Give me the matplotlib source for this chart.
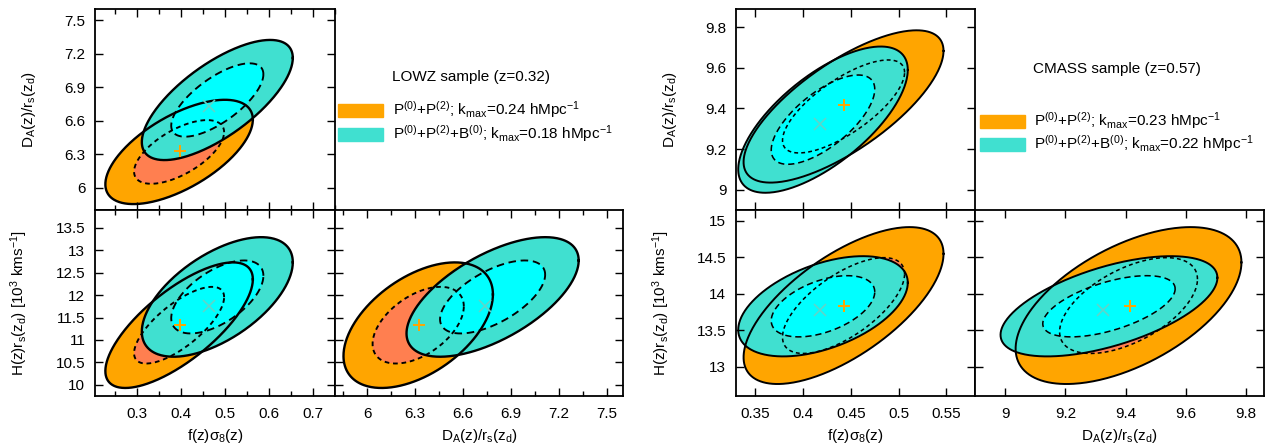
import numpy as np
import matplotlib
matplotlib.use('Agg')
import matplotlib.pyplot as plt
from matplotlib.patches import Rectangle
from matplotlib.ticker import MultipleLocator, FuncFormatter

plt.rcParams['font.family'] = ['Liberation Sans', 'DejaVu Sans']
plt.rcParams['mathtext.fontset'] = 'custom'
plt.rcParams['mathtext.rm'] = 'Liberation Sans'
plt.rcParams['mathtext.it'] = 'Liberation Sans:italic'
plt.rcParams['mathtext.bf'] = 'Liberation Sans:bold'
plt.rcParams['font.size'] = 11

# parameter order: f*sigma8, DA/rs, H*rs ; rho = (fs8-DA, fs8-H, DA-H)
lowz_p02_mean = [0.395, 6.32, 11.33]
lowz_p02_sig = [0.0676, 0.188, 0.564]
lowz_p02_rho = [0.62, 0.73, 0.49]
lowz_p02_best = [0.396, 6.325, 11.33]

lowz_bis_mean = [0.482, 6.785, 11.96]
lowz_bis_sig = [0.0692, 0.2166, 0.537]
lowz_bis_rho = [0.70, 0.58, 0.61]
lowz_bis_best = [0.462, 6.735, 11.75]

cmass_p02_mean = [0.4425, 9.41, 13.84]
cmass_p02_sig = [0.0421, 0.151, 0.433]
cmass_p02_rho = [0.73, 0.66, 0.55]
cmass_p02_best = [0.443, 9.415, 13.84]

cmass_bis_mean = [0.421, 9.345, 13.83]
cmass_bis_sig = [0.0357, 0.145, 0.2766]
cmass_bis_rho = [0.68, 0.47, 0.57]
cmass_bis_best = [0.418, 9.325, 13.785]

lowz_labels = [r'P$^{\mathrm{(0)}}$+P$^{\mathrm{(2)}}$; k$_{\mathrm{max}}$=0.24 hMpc$^{\mathrm{-1}}$',
               r'P$^{\mathrm{(0)}}$+P$^{\mathrm{(2)}}$+B$^{\mathrm{(0)}}$; k$_{\mathrm{max}}$=0.18 hMpc$^{\mathrm{-1}}$']
cmass_labels = [r'P$^{\mathrm{(0)}}$+P$^{\mathrm{(2)}}$; k$_{\mathrm{max}}$=0.23 hMpc$^{\mathrm{-1}}$',
                r'P$^{\mathrm{(0)}}$+P$^{\mathrm{(2)}}$+B$^{\mathrm{(0)}}$; k$_{\mathrm{max}}$=0.22 hMpc$^{\mathrm{-1}}$']

ORANGE, CORAL = '#FFA500', '#FF7F50'
TURQ, CYAN = '#40E0D0', '#00FFFF'
CHI2_1S, CHI2_2S = 2.30, 6.17

lab_fs8 = r'f(z)σ$_{\mathrm{8}}$(z)'
lab_da = r'D$_{\mathrm{A}}$(z)/r$_{\mathrm{s}}$(z$_{\mathrm{d}}$)'
lab_h = r'H(z)r$_{\mathrm{s}}$(z$_{\mathrm{d}}$) [10$^{\mathrm{3}}$ kms$^{\mathrm{-1}}$]'


def ellipse(mean, sig, rho, i, j, k):
    r = {(0, 1): rho[0], (0, 2): rho[1], (1, 2): rho[2]}[(i, j)]
    c = np.array([[sig[i]**2, r*sig[i]*sig[j]], [r*sig[i]*sig[j], sig[j]**2]])
    L = np.linalg.cholesky(c)
    t = np.linspace(0, 2*np.pi, 400)
    p = L @ np.vstack([np.cos(t), np.sin(t)]) * np.sqrt(k)
    return mean[i] + p[0], mean[j] + p[1]


def draw(ax, i, j, a, b, lw):
    # a: P0+P2 set, b: +B0 set  -> (mean, sig, rho, best)
    for (m, s, r, _), co, ci in [(a, ORANGE, CORAL), (b, TURQ, CYAN)]:
        ax.fill(*ellipse(m, s, r, i, j, CHI2_2S), color=co, lw=0)
        ax.fill(*ellipse(m, s, r, i, j, CHI2_1S), color=ci, lw=0)
    for (m, s, r, _), d in [(a, (2.5, 2)), (b, (4, 2.5))]:
        ax.plot(*ellipse(m, s, r, i, j, CHI2_2S), color='k', lw=lw)
        ax.plot(*ellipse(m, s, r, i, j, CHI2_1S), color='k', lw=lw*0.8, dashes=d)
    ax.plot(a[3][i], a[3][j], '+', color=ORANGE, ms=8, mew=1.4)
    ax.plot(b[3][i], b[3][j], 'x', color='#5ED6CA', ms=8, mew=1.2)


def style(ax, xlim, ylim, xmaj, ymaj, xmin=None, ymin=None):
    ax.set_xlim(*xlim)
    ax.set_ylim(*ylim)
    ax.xaxis.set_major_locator(MultipleLocator(xmaj))
    ax.yaxis.set_major_locator(MultipleLocator(ymaj))
    if xmin:
        ax.xaxis.set_minor_locator(MultipleLocator(xmin))
    if ymin:
        ax.yaxis.set_minor_locator(MultipleLocator(ymin))
    fmt = FuncFormatter(lambda v, p: f'{round(v, 6):g}')
    ax.xaxis.set_major_formatter(fmt)
    ax.yaxis.set_major_formatter(fmt)
    ax.tick_params(which='both', direction='in', top=True, right=True, width=1)
    ax.tick_params(which='major', length=6)
    ax.tick_params(which='minor', length=3.5)
    ax.tick_params(axis='x', pad=8)
    ax.tick_params(axis='y', pad=7)
    for sp in ax.spines.values():
        sp.set_linewidth(1.3)


W, H = 1273, 445
fig = plt.figure(figsize=(W/100, H/100), dpi=100)


def axes_px(x0, x1, y0, y1):
    return fig.add_axes([x0/W, 1 - y1/H, (x1 - x0)/W, (y1 - y0)/H])


def ylab(ax, txt, xc):
    ax.set_ylabel(txt, va='center')
    ax.yaxis.set_label_coords(xc, 0.5)


def xlab(ax, txt):
    ax.set_xlabel(txt, va='center')
    ax.xaxis.set_label_coords(0.5, -0.215)


# ---- LOWZ ----
lz_a = (lowz_p02_mean, lowz_p02_sig, lowz_p02_rho, lowz_p02_best)
lz_b = (lowz_bis_mean, lowz_bis_sig, lowz_bis_rho, lowz_bis_best)
lw_l = 1.7

ax1 = axes_px(95, 335, 9, 210)
draw(ax1, 0, 1, lz_a, lz_b, lw_l)
style(ax1, (0.2035, 0.75), (5.8, 7.6), 0.1, 0.3, 0.05)
ax1.tick_params(labelbottom=False)
ylab(ax1, lab_da, -0.275)

ax2 = axes_px(95, 335, 210, 396)
draw(ax2, 0, 2, lz_a, lz_b, lw_l)
style(ax2, (0.2035, 0.75), (9.75, 13.9), 0.1, 0.5, 0.05)
ylab(ax2, lab_h, -0.315)
xlab(ax2, lab_fs8)

ax3 = axes_px(335, 623, 210, 396)
draw(ax3, 1, 2, lz_a, lz_b, lw_l)
style(ax3, (5.8, 7.6), (9.75, 13.9), 0.3, 0.5, 0.15)
ax3.tick_params(labelleft=False)
xlab(ax3, lab_da)

fig.text(392/W, 1 - 77.5/H, 'LOWZ sample (z=0.32)', va='center', ha='left')
fig.add_artist(Rectangle((338/W, 1 - 116.7/H), 45/W, 12.7/H, color=ORANGE, transform=fig.transFigure))
fig.add_artist(Rectangle((338/W, 1 - 140.7/H), 45/W, 12.4/H, color=TURQ, transform=fig.transFigure))
fig.text(393/W, 1 - 110/H, lowz_labels[0], va='center', ha='left')
fig.text(393/W, 1 - 133.5/H, lowz_labels[1], va='center', ha='left')

# ---- CMASS ----
cm_a = (cmass_p02_mean, cmass_p02_sig, cmass_p02_rho, cmass_p02_best)
cm_b = (cmass_bis_mean, cmass_bis_sig, cmass_bis_rho, cmass_bis_best)
lw_c = 1.4

ax4 = axes_px(736, 975, 9, 210)
draw(ax4, 0, 1, cm_a, cm_b, lw_c)
style(ax4, (0.33, 0.58), (8.9, 9.89), 0.05, 0.2)
ax4.tick_params(labelbottom=False)
ylab(ax4, lab_da, -0.278)

ax5 = axes_px(736, 975, 210, 396)
draw(ax5, 0, 2, cm_a, cm_b, lw_c)
style(ax5, (0.33, 0.58), (12.6, 15.15), 0.05, 0.5)
ylab(ax5, lab_h, -0.312)
xlab(ax5, lab_fs8)

ax6 = axes_px(975, 1264, 210, 396)
draw(ax6, 1, 2, cm_a, cm_b, lw_c)
style(ax6, (8.9, 9.86), (12.6, 15.15), 0.2, 0.5)
ax6.tick_params(labelleft=False)
xlab(ax6, lab_da)

fig.text(1033/W, 1 - 69/H, 'CMASS sample (z=0.57)', va='center', ha='left')
fig.add_artist(Rectangle((980/W, 1 - 128/H), 45/W, 13.5/H, color=ORANGE, transform=fig.transFigure))
fig.add_artist(Rectangle((980/W, 1 - 151/H), 45/W, 13.3/H, color=TURQ, transform=fig.transFigure))
fig.text(1034/W, 1 - 121/H, cmass_labels[0], va='center', ha='left')
fig.text(1034/W, 1 - 144/H, cmass_labels[1], va='center', ha='left')

fig.savefig('out.png', dpi=100)
